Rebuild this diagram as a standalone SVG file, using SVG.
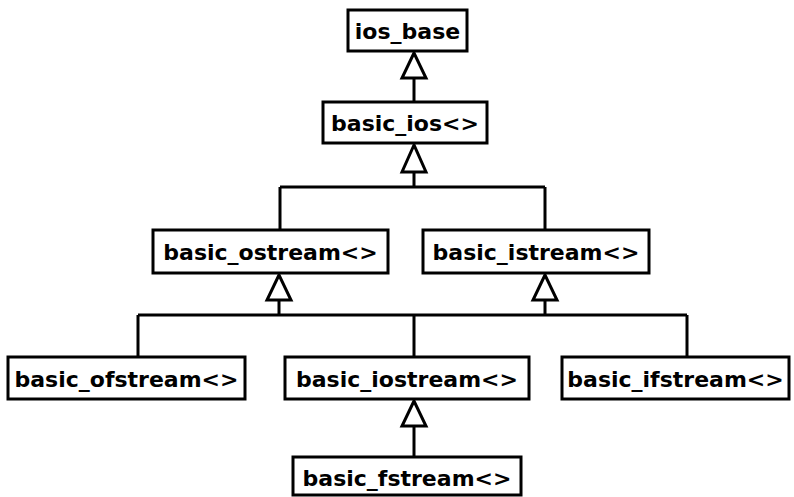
<svg xmlns="http://www.w3.org/2000/svg" width="794" height="497" viewBox="0 0 794 497">
<style>
.box{fill:#fff;stroke:#000;stroke-width:3}
.lbl{font-family:"DejaVu Sans",sans-serif;font-weight:bold;font-size:22px;fill:#000;text-anchor:middle}
.ln{fill:none;stroke:#000;stroke-width:3}
.tri{fill:#fff;stroke:#000;stroke-width:3;stroke-linejoin:miter}
</style>
<rect width="794" height="497" fill="#fff"/>
<g id="connectors">
<path class="ln" d="M414,78 V102"/>
<path class="ln" d="M414,172 V187 M280,187 H545 M280,187 V230 M545,187 V230"/>
<path class="ln" d="M279,300 V315 M545,300 V315 M138,315 H687 M138,315 V357 M414,315 V357 M687,315 V357"/>
<path class="ln" d="M414,426 V457"/>
<polygon class="tri" points="414,53 402,78 426,78"/>
<polygon class="tri" points="414,145 402,172 426,172"/>
<polygon class="tri" points="279,275 267,300 291,300"/>
<polygon class="tri" points="545,275 533,300 557,300"/>
<polygon class="tri" points="414,401 402,426 426,426"/>
</g>
<g id="ios_base"><rect class="box" x="348" y="10" width="119" height="41"/><text class="lbl" x="407.5" y="38.5">ios_base</text></g>
<g id="basic_ios"><rect class="box" x="323" y="102" width="164" height="41"/><text class="lbl" x="405" y="130.5">basic_ios&lt;&gt;</text></g>
<g id="basic_ostream"><rect class="box" x="153" y="230" width="235" height="43"/><text class="lbl" x="270.5" y="259.5">basic_ostream&lt;&gt;</text></g>
<g id="basic_istream"><rect class="box" x="423" y="230" width="226" height="43"/><text class="lbl" x="536" y="259.5">basic_istream&lt;&gt;</text></g>
<g id="basic_ofstream"><rect class="box" x="8" y="357" width="237" height="42"/><text class="lbl" x="126.5" y="386.5">basic_ofstream&lt;&gt;</text></g>
<g id="basic_iostream"><rect class="box" x="285" y="357" width="244" height="42"/><text class="lbl" x="407" y="386.5">basic_iostream&lt;&gt;</text></g>
<g id="basic_ifstream"><rect class="box" x="562" y="357" width="227" height="42"/><text class="lbl" x="675.5" y="386.5">basic_ifstream&lt;&gt;</text></g>
<g id="basic_fstream"><rect class="box" x="293" y="457" width="228" height="38"/><text class="lbl" x="407" y="485.5">basic_fstream&lt;&gt;</text></g>
</svg>
